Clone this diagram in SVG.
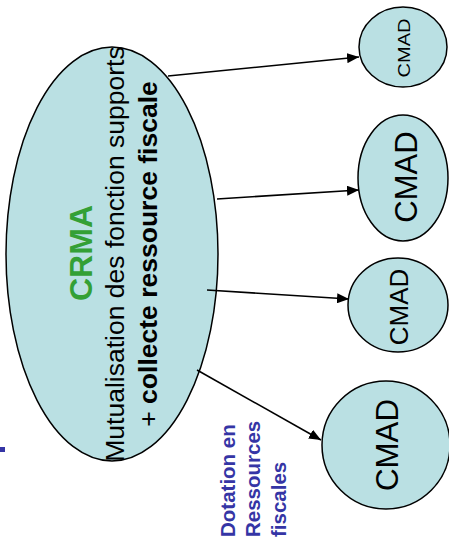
<svg xmlns="http://www.w3.org/2000/svg" width="449" height="542" viewBox="0 0 449 542">
<defs>
<style>
.shape{fill:#bae0e3;stroke:#000;stroke-width:1.5}
.t{font-family:"Liberation Sans",Arial,sans-serif;fill:#000}
.c{stroke:#000;stroke-width:1.6;fill:none;marker-end:url(#ah)}
.b{font-family:"Liberation Sans",Arial,sans-serif;font-weight:bold;fill:#3535a5;font-size:20.5px}
</style>
<marker id="ah" viewBox="0 0 12 10" refX="12" refY="5" markerWidth="12" markerHeight="10" markerUnits="userSpaceOnUse" orient="auto">
<path d="M0,0 L12,5 L0,10 Z" fill="#000"/>
</marker>
</defs>
<rect width="449" height="542" fill="#fff"/>
<g id="crma">
<ellipse class="shape" cx="112" cy="254" rx="106" ry="207"/>
<text class="t" transform="translate(92,253) rotate(-90)" text-anchor="middle" font-size="32" font-weight="bold" fill="#33a035" style="fill:#33a035">CRMA</text>
<text class="t" transform="translate(124,254) rotate(-90)" text-anchor="middle" font-size="26.5">Mutualisation des fonction supports</text>
<text class="t" transform="translate(157,254) rotate(-90)" text-anchor="middle" font-size="26.5">+ <tspan font-weight="bold">collecte ressource fiscale</tspan></text>
</g>
<g id="cmad1">
<ellipse class="shape" cx="403" cy="47" rx="44" ry="40"/>
<text class="t" transform="translate(410,48) rotate(-90)" text-anchor="middle" font-size="17" textLength="59" lengthAdjust="spacingAndGlyphs">CMAD</text>
</g>
<g id="cmad2">
<ellipse class="shape" cx="403" cy="178" rx="45" ry="63"/>
<text class="t" transform="translate(417,177) rotate(-90)" text-anchor="middle" font-size="31">CMAD</text>
</g>
<g id="cmad3">
<ellipse class="shape" cx="398" cy="305" rx="50" ry="47"/>
<text class="t" transform="translate(408,307) rotate(-90)" text-anchor="middle" font-size="26">CMAD</text>
</g>
<g id="cmad4">
<ellipse class="shape" cx="386" cy="445" rx="64" ry="64"/>
<text class="t" transform="translate(398,445) rotate(-90)" text-anchor="middle" font-size="32" textLength="92" lengthAdjust="spacingAndGlyphs">CMAD</text>
</g>
<g id="connectors">
<line class="c" x1="168" y1="76" x2="359" y2="57"/>
<line class="c" x1="217" y1="199" x2="359" y2="190"/>
<line class="c" x1="207" y1="290" x2="349" y2="299"/>
<line class="c" x1="197" y1="370" x2="321" y2="440"/>
</g>
<g id="label">
<text class="b" transform="translate(235,537) rotate(-90)">Dotation en</text>
<text class="b" transform="translate(260,537) rotate(-90)">Ressources</text>
<text class="b" transform="translate(286,537) rotate(-90)">fiscales</text>
</g>
<rect x="0" y="447" width="5" height="5" fill="#3535a5"/>
</svg>
